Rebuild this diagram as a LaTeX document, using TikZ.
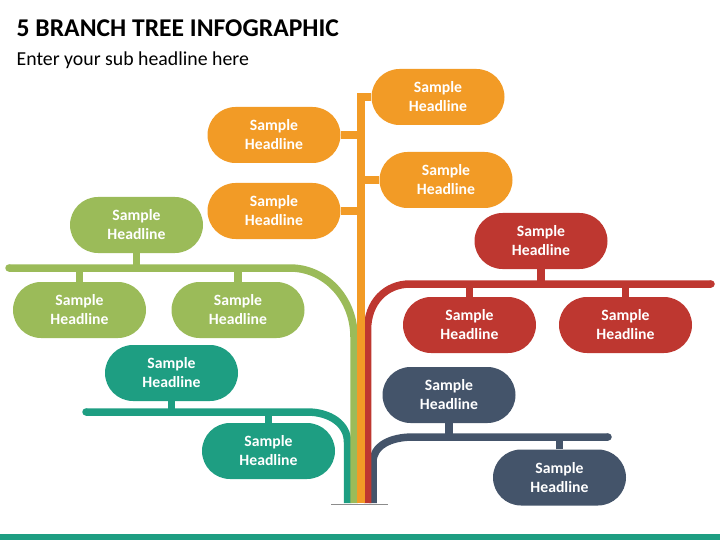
\documentclass[tikz,border=0pt]{standalone}
\usepackage{fontspec}
\setmainfont{Carlito}
\definecolor{cOr}{HTML}{F29B26}
\definecolor{cGr}{HTML}{9BBB59}
\definecolor{cRd}{HTML}{BE3730}
\definecolor{cTl}{HTML}{1E9E82}
\definecolor{cDb}{HTML}{44546A}
\tikzset{
  leaf/.style={fill=#1, draw=none, rounded corners=28pt, minimum width=133pt, minimum height=56pt,
    inner sep=0pt, align=center, text=white, font=\fontsize{15.7}{19}\selectfont\bfseries},
  limb/.style={draw=#1, line width=7.5pt, line cap=butt, line join=miter},
}
\begin{document}
\begin{tikzpicture}[x=1pt,y=-1pt]
\useasboundingbox (0,0) rectangle (720,540);
% titles
\node[anchor=base west, inner sep=0pt, font=\fontsize{25.6}{30}\selectfont\bfseries] (title) at (16.5,36.5) {5 BRANCH TREE INFOGRAPHIC};
\node[anchor=base west, inner sep=0pt, font=\fontsize{19.8}{24}\selectfont] (sub) at (16.5,66) {Enter your sub headline here};
% bottom bar
\fill[cTl] (0,534) rectangle (720,540);
% shadow under trunk
\draw[black!45, line width=1.6pt] (331,504.5) -- (388,504.5);

% coordinates
\coordinate (gbar) at (0,268);
\coordinate (tbar) at (0,412);
\coordinate (rbar) at (0,284);
\coordinate (dbar) at (0,437);
\coordinate (gend) at (9,268);
\coordinate (tend) at (86,412);
\coordinate (rend) at (711,284);
\coordinate (dend) at (608,437);
\coordinate (gbase) at (354,503);
\coordinate (tbase) at (347.5,503);
\coordinate (obase) at (361,503);
\coordinate (rbase) at (367.5,503);
\coordinate (dbase) at (373,503);

% nodes
\node[leaf=cOr] (o1) at (438,97) {Sample\\Headline};
\node[leaf=cOr] (o2) at (274,135) {Sample\\Headline};
\node[leaf=cOr] (o3) at (446,180) {Sample\\Headline};
\node[leaf=cOr] (o4) at (274,211) {Sample\\Headline};

\node[leaf=cGr] (g1) at (136.5,225) {Sample\\Headline};
\node[leaf=cGr] (g2) at (79.5,310) {Sample\\Headline};
\node[leaf=cGr] (g3) at (238,310) {Sample\\Headline};

\node[leaf=cRd] (r1) at (541,241) {Sample\\Headline};
\node[leaf=cRd] (r2) at (469.5,325) {Sample\\Headline};
\node[leaf=cRd] (r3) at (625.5,325) {Sample\\Headline};

\node[leaf=cTl] (t1) at (171.5,373) {Sample\\Headline};
\node[leaf=cTl] (t2) at (268.5,451) {Sample\\Headline};

\node[leaf=cDb] (d1) at (449,395) {Sample\\Headline};
\node[leaf=cDb] (d2) at (559.5,477.5) {Sample\\Headline};

% stubs
\draw[limb=cGr] (g1.south) -- (g1.south |- gbar);
\draw[limb=cGr] (g2.north) -- (g2.north |- gbar);
\draw[limb=cGr] (g3.north) -- (g3.north |- gbar);
\draw[limb=cRd] (r1.south) -- (r1.south |- rbar);
\draw[limb=cRd] (r2.north) -- (r2.north |- rbar);
\draw[limb=cRd] (r3.north) -- (r3.north |- rbar);
\draw[limb=cTl] (t1.south) -- (t1.south |- tbar);
\draw[limb=cTl] (t2.north) -- (t2.north |- tbar);
\draw[limb=cDb] (d1.south) -- (d1.south |- dbar);
\draw[limb=cDb] (d2.north) -- (d2.north |- dbar);
\draw[limb=cOr] (o2.east) -- (o2.east -| obase);
\draw[limb=cOr] (o4.east) -- (o4.east -| obase);
\draw[limb=cOr] (o3.west) -- (o3.west -| obase);

% branches
\draw[limb=cTl] (tend) -- (307,412) .. controls (330,412) and (347.5,424) .. (347.5,442) -- (tbase);
\fill[cTl] (tend) circle (3.75pt);
\draw[limb=cDb] (dend) -- (413,437) .. controls (390,437) and (373,446) .. (373,462) -- (dbase);
\fill[cDb] (dend) circle (3.75pt);
\draw[limb=cGr] (gend) -- (290,268) .. controls (325,268) and (354,298) .. (354,337) -- (gbase);
\fill[cGr] (gend) circle (3.75pt);
\draw[limb=cRd] (rend) -- (410,284) .. controls (386,284) and (367.5,302) .. (367.5,330) -- (rbase);
\fill[cRd] (rend) circle (3.75pt);
% trunk
\draw[limb=cOr] (o1.west) -- (o1.west -| obase) -- (obase);
\end{tikzpicture}
\end{document}
